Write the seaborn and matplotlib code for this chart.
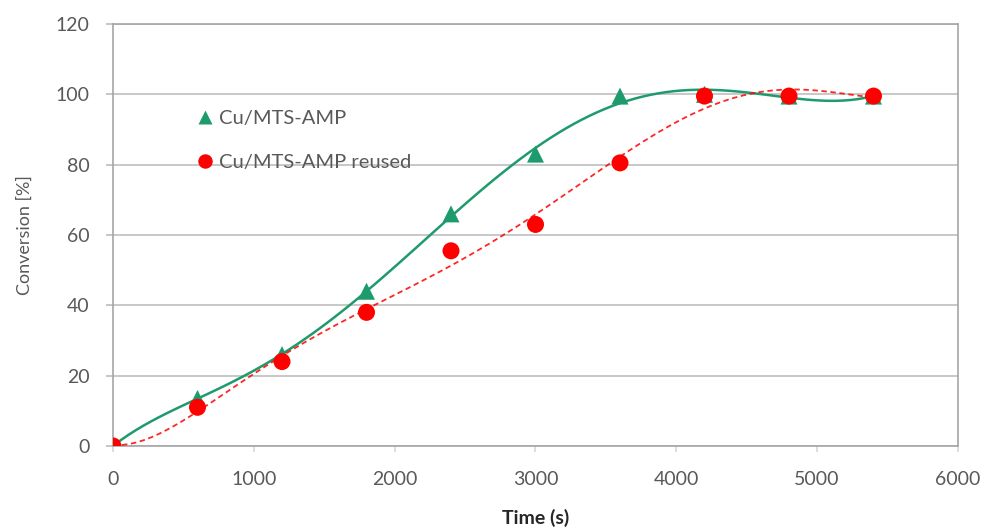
import numpy as np
import pandas as pd
import matplotlib
matplotlib.use("Agg")
import matplotlib.pyplot as plt
import seaborn as sns

# data
time_s = [0, 600, 1200, 1800, 2400, 3000, 3600, 4200, 4800, 5400]
conv_fresh = [0, 13.5, 26, 44, 66, 83, 99.5, 100, 99.5, 99.5]
conv_reused = [0, 11, 24, 38, 55.5, 63, 80.5, 99.5, 99.5, 99.5]
series_names = ["Cu/MTS-AMP", "Cu/MTS-AMP reused"]
x_ticks = [0, 1000, 2000, 3000, 4000, 5000, 6000]
y_ticks = [0, 20, 40, 60, 80, 100, 120]

GREEN = "#1e9b6c"
RED = "#ff0000"
GREY = "#595959"

df = pd.DataFrame({
    "time": time_s * 2,
    "conv": conv_fresh + conv_reused,
    "series": [series_names[0]] * len(time_s) + [series_names[1]] * len(time_s),
})

sns.set_theme(style="whitegrid")
plt.rcParams["font.family"] = ["Lato", "DejaVu Sans"]

fig = plt.figure(figsize=(9.86, 5.32), dpi=100)
ax = fig.add_axes([0.1146, 0.1617, 0.857, 0.7932])

# polynomial trendlines (as in the original spreadsheet chart)
sns.regplot(x=time_s, y=conv_fresh, order=6, ci=None, scatter=False, truncate=True,
            line_kws={"color": GREEN, "lw": 1.8, "zorder": 3}, ax=ax)
sns.regplot(x=time_s, y=conv_reused, order=6, ci=None, scatter=False, truncate=True,
            line_kws={"color": RED, "lw": 1.3, "ls": (0, (3, 2)), "alpha": 0.85,
                      "zorder": 3}, ax=ax)

sns.scatterplot(data=df, x="time", y="conv", hue="series", style="series",
                palette={series_names[0]: GREEN, series_names[1]: RED},
                markers={series_names[0]: "^", series_names[1]: "o"},
                s=150, edgecolor="none", ax=ax, zorder=4)

ax.set_xlim(0, 6000)
ax.set_ylim(0, 120)
ax.set_xticks(x_ticks)
ax.set_yticks(y_ticks)
ax.grid(axis="x", visible=False)
ax.grid(axis="y", color="#bfbfbf", lw=1.2)
for sp in ax.spines.values():
    sp.set_color("#a6a6a6")
    sp.set_linewidth(1.2)
ax.tick_params(axis="x", colors=GREY, labelsize=14, length=4, color="#d9d9d9",
               direction="out", bottom=True, pad=14)
ax.tick_params(axis="y", colors=GREY, labelsize=14, length=5, color="#bfbfbf",
               left=True, pad=12)

ax.set_xlabel("Time (s)", fontsize=14, fontweight="bold", color="#262626", labelpad=15)
ax.set_ylabel("Conversion [%]", fontsize=13, color=GREY, labelpad=16)

leg = ax.legend(loc="center left", bbox_to_anchor=(0.097, 0.724), frameon=False,
                fontsize=14.5, handlelength=1.0, handletextpad=0.2, labelspacing=1.35,
                borderpad=0, borderaxespad=0, markerscale=0.85)
for t in leg.get_texts():
    t.set_color(GREY)

fig.savefig("out.png", dpi=100)
